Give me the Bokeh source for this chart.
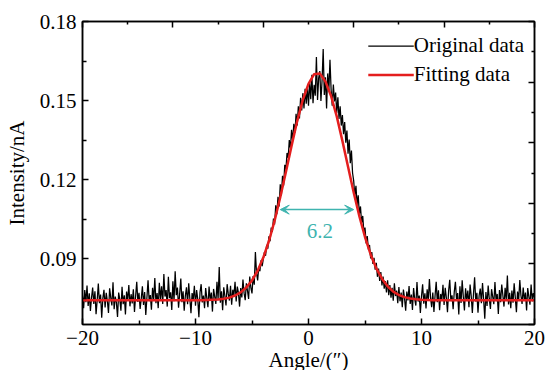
import numpy as np
from bokeh.plotting import figure
from bokeh.models import (Range1d, LinearAxis, FixedTicker, Legend, LegendItem,
                          Arrow, VeeHead, Label)
from bokeh.embed import file_html
from bokeh.resources import INLINE

# ---------------- data ----------------
angle_start = -20.0
angle_step = 0.1
# measured intensity in units of 1e-4 nA, one value every 0.1 arcsec from -20 to 20
intensity_e4 = [
    760, 712, 781, 735, 798, 720, 768, 701, 752, 790,
    728, 776, 689, 742, 805, 731, 764, 676, 749, 782,
    715, 770, 739, 694, 787, 752, 722, 810, 708, 756,
    733, 679, 771, 745, 702, 793, 727, 761, 688, 775,
    741, 800, 719, 765, 730, 784, 698, 757, 812, 736,
    770, 709, 748, 795, 724, 773, 686, 751, 818, 739,
    762, 706, 789, 744, 826, 731, 769, 712, 808, 747,
    795, 728, 842, 756, 781, 718, 831, 750, 772, 705,
    814, 738, 852, 761, 790, 714, 767, 824, 735, 776,
    702, 758, 791, 727, 806, 748, 693, 769, 744, 797,
    721, 781, 746, 678, 772, 803, 734, 760, 712, 788,
    750, 716, 794, 741, 771, 699, 785, 756, 728, 812,
    745, 868, 733, 776, 704, 791, 758, 722, 803, 766,
    741, 797, 725, 782, 760, 812, 737, 794, 770, 718,
    788, 753, 821, 769, 742, 806, 778, 747, 832, 790,
    768, 834, 801, 925, 846, 817, 869, 852, 894, 871,
    898, 925, 911, 952, 938, 985, 966, 1018, 1001, 1052,
    1030, 1102, 1069, 1135, 1098, 1182, 1140, 1214, 1178, 1256,
    1238, 1301, 1282, 1350, 1318, 1389, 1346, 1412, 1378, 1450,
    1405, 1478, 1432, 1510, 1462, 1528, 1470, 1545, 1488, 1551,
    1480, 1572, 1505, 1598, 1490, 1560, 1518, 1665, 1502, 1585,
    1612, 1498, 1575, 1696, 1521, 1588, 1470, 1603, 1535, 1655,
    1542, 1480, 1561, 1497, 1530, 1452, 1512, 1430, 1478, 1405,
    1445, 1372, 1418, 1340, 1386, 1298, 1352, 1262, 1310, 1225,
    1195, 1138, 1176, 1102, 1140, 1068, 1098, 1036, 1062, 1001,
    1018, 958, 986, 935, 952, 901, 925, 880, 903, 858,
    884, 831, 862, 815, 849, 798, 832, 786, 815, 772,
    818, 761, 800, 752, 789, 740, 806, 758, 779, 731,
    792, 738, 771, 716, 783, 749, 702, 775, 741, 796,
    728, 764, 705, 788, 746, 722, 811, 737, 760, 694,
    757, 803, 729, 768, 711, 784, 740, 823, 752, 716,
    771, 698, 759, 812, 735, 780, 704, 766, 742, 801,
    724, 789, 751, 697, 778, 820, 739, 761, 708, 774,
    812, 745, 769, 688, 795, 732, 818, 755, 703, 787,
    742, 779, 716, 802, 758, 694, 766, 829, 737, 770,
    695, 760, 786, 731, 807, 744, 672, 773, 720, 798,
    748, 709, 784, 756, 727, 811, 739, 766, 690, 781,
    735, 802, 761, 718, 789, 744, 836, 726, 770, 712,
    779, 733, 806, 752, 697, 775, 742, 819, 760, 728,
    790, 741, 771, 703, 788, 756, 725, 802, 738, 769,
    752,
]

fit_angle = [-20, -11, -10.5, -10, -9.5, -9, -8.5, -8, -7.5, -7,
             -6.5, -6, -5.5, -5, -4.5, -4, -3.5, -3, -2.5, -2,
             -1.5, -1, -0.5, 0, 0.5, 1, 1.5, 2, 2.5, 3,
             3.5, 4, 4.5, 5, 5.5, 6, 6.5, 7, 7.5, 8,
             8.5, 9, 9.5, 10, 10.5, 11, 20]
fit_intensity = [0.0742, 0.0742, 0.0742, 0.0742, 0.0742, 0.0743, 0.0744, 0.0745, 0.0748, 0.0752,
                 0.0760, 0.0772, 0.0791, 0.0817, 0.0854, 0.0904, 0.0967, 0.1044, 0.1133, 0.1229,
                 0.1328, 0.1422, 0.1503, 0.1563, 0.1600, 0.1603, 0.1572, 0.1517, 0.1440, 0.1347,
                 0.1249, 0.1151, 0.1061, 0.0982, 0.0916, 0.0863, 0.0824, 0.0795, 0.0775, 0.0762,
                 0.0754, 0.0749, 0.0746, 0.0744, 0.0743, 0.0742, 0.0742]

x_ticks = [-20, -10, 0, 10, 20]
x_minor_ticks = [-15, -5, 5, 15]
x_tick_labels = ["\u221220", "\u221210", "0", "10", "20"]
y_ticks = [0.09, 0.12, 0.15, 0.18]
y_minor_ticks = [0.075, 0.105, 0.135, 0.165]
y_tick_labels = ["0.09", "0.12", "0.15", "0.18"]

fwhm_left = -2.5
fwhm_right = 4.0
fwhm_level = 0.1086
fwhm_text = "6.2"
fwhm_text_x = 1.0
fwhm_text_y = 0.1006

series_labels = ["Original data", "Fitting data"]

# ---------------- plot ----------------
FONT = "'Liberation Serif', 'Times New Roman', serif"
FS = "21px"
RED = "#E41E1E"
TEAL = "#3FB4AF"

angle = np.round(angle_start + angle_step * np.arange(len(intensity_e4)), 2)
intensity = np.array(intensity_e4) / 10000.0

p = figure(frame_width=452, frame_height=303,
           x_range=Range1d(-20, 20), y_range=Range1d(0.065, 0.18),
           output_backend="svg", toolbar_location=None,
           min_border_left=82, min_border_right=11, min_border_top=21, min_border_bottom=46)
p.background_fill_color = "white"
p.border_fill_color = "white"
p.grid.visible = False
p.outline_line_color = "black"
p.outline_line_width = 1.5

r_data = p.line(angle, intensity, line_color="black", line_width=1.25)
r_fit = p.line(fit_angle, fit_intensity, line_color=RED, line_width=2.5, line_join="round")

def style_axis(ax):
    ax.axis_line_color = "black"
    ax.axis_line_width = 1.5
    ax.major_tick_line_color = "black"
    ax.minor_tick_line_color = "black"
    ax.major_tick_line_width = 1.5
    ax.minor_tick_line_width = 1.5
    ax.major_tick_in = 6
    ax.major_tick_out = 0
    ax.minor_tick_in = 4
    ax.minor_tick_out = 0
    ax.major_label_text_font = FONT
    ax.major_label_text_font_size = FS
    ax.major_label_text_color = "black"
    ax.axis_label_text_font = FONT
    ax.axis_label_text_font_size = FS
    ax.axis_label_text_font_style = "normal"
    ax.axis_label_text_color = "black"

xa = p.xaxis[0]
style_axis(xa)
xa.ticker = FixedTicker(ticks=x_ticks, minor_ticks=x_minor_ticks)
xa.major_label_overrides = {t: s for t, s in zip(x_ticks, x_tick_labels)}
xa.axis_label = "Angle/(\u2033)"
xa.major_label_standoff = 6
xa.axis_label_standoff = 0

ya = p.yaxis[0]
style_axis(ya)
ya.ticker = FixedTicker(ticks=y_ticks, minor_ticks=y_minor_ticks)
ya.major_label_overrides = {t: s for t, s in zip(y_ticks, y_tick_labels)}
ya.axis_label = "Intensity/nA"
ya.major_label_standoff = 6
ya.axis_label_standoff = 8

# secondary (mirror) axes with their own 10-step division, ticks only
p.extra_x_ranges = {"top": Range1d(0, 10)}
p.extra_y_ranges = {"right": Range1d(0, 10)}
top_ax = LinearAxis(x_range_name="top",
                    ticker=FixedTicker(ticks=[0, 2, 4, 6, 8, 10], minor_ticks=[1, 3, 5, 7, 9]))
right_ax = LinearAxis(y_range_name="right",
                      ticker=FixedTicker(ticks=[0, 2, 4, 6, 8, 10], minor_ticks=[1, 3, 5, 7, 9]))
for ax in (top_ax, right_ax):
    style_axis(ax)
    ax.major_label_text_font_size = "0px"
    ax.major_label_text_color = None
    ax.major_label_standoff = 0
    ax.major_tick_in = 6
    ax.minor_tick_in = 3
p.add_layout(top_ax, "above")
p.add_layout(right_ax, "right")

# FWHM arrow and label
p.add_layout(Arrow(x_start=fwhm_left, y_start=fwhm_level, x_end=fwhm_right, y_end=fwhm_level,
                   line_color=TEAL, line_width=1.5,
                   start=VeeHead(size=9, fill_color=TEAL, line_color=TEAL, line_width=1),
                   end=VeeHead(size=9, fill_color=TEAL, line_color=TEAL, line_width=1)))
p.add_layout(Label(x=fwhm_text_x, y=fwhm_text_y, text=fwhm_text,
                   text_font=FONT, text_font_size=FS, text_color=TEAL,
                   text_align="center", text_baseline="middle"))

legend = Legend(items=[LegendItem(label=series_labels[0], renderers=[r_data]),
                       LegendItem(label=series_labels[1], renderers=[r_fit])],
                location="top_right")
legend.border_line_color = None
legend.background_fill_alpha = 0
legend.label_text_font = FONT
legend.label_text_font_size = FS
legend.label_text_color = "black"
legend.glyph_width = 46
legend.glyph_height = 29
legend.label_height = 29
legend.label_standoff = 0
legend.spacing = 0
legend.padding = 0
legend.margin = 10
p.add_layout(legend)

open("out.html", "w").write(file_html(p, INLINE))
